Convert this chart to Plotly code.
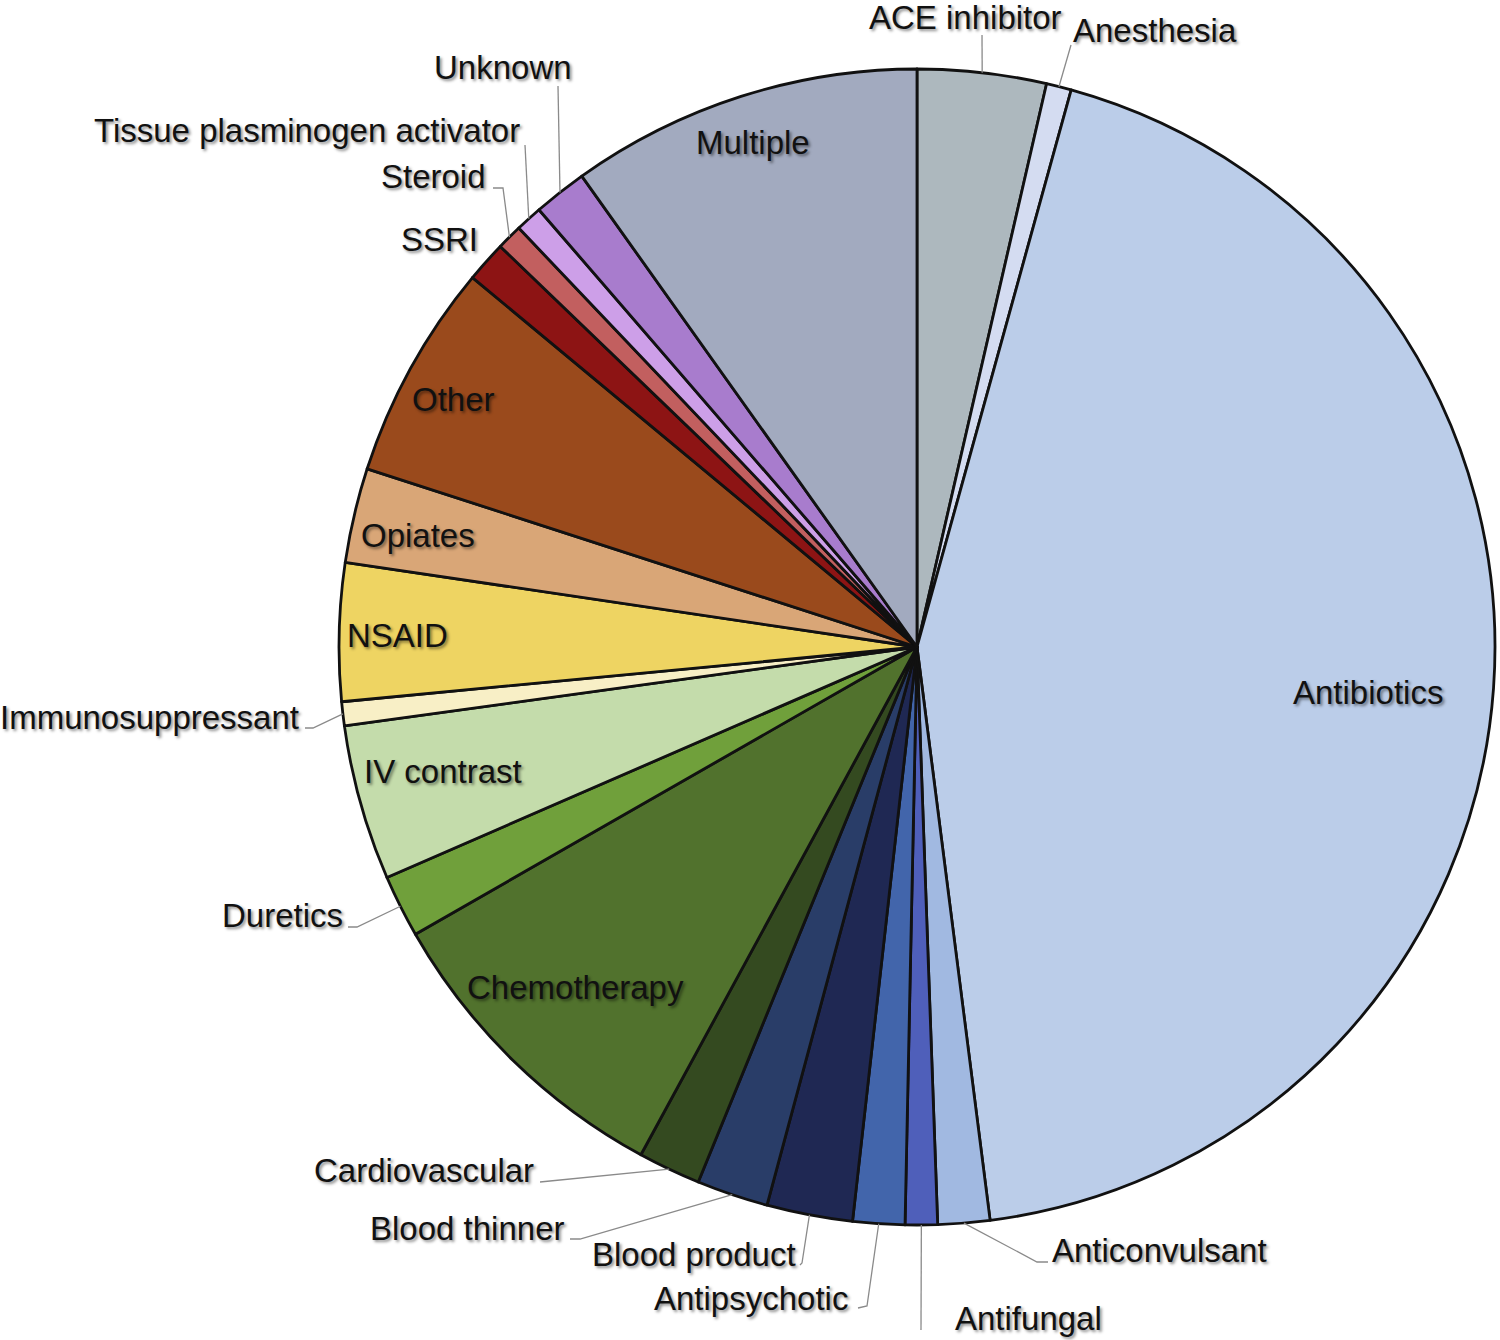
import math
import plotly.graph_objects as go

# ---------------- data ----------------
categories = ["ACE inhibitor", "Anesthesia", "Antibiotics", "Anticonvulsant", "Antifungal",
              "Antipsychotic", "Blood product", "Blood thinner", "Cardiovascular", "Chemotherapy",
              "Duretics", "IV contrast", "Immunosuppressant", "NSAID", "Opiates", "Other",
              "SSRI", "Steroid", "Tissue plasminogen activator", "Unknown", "Multiple"]
values = [3.6, 0.7, 43.7, 1.45, 0.9, 1.45, 2.4, 2.0, 1.75, 8.8,
          1.75, 4.35, 0.67, 3.85, 2.65, 6.05, 1.15, 0.72, 0.75, 1.5, 9.85]
colors = ["#adb8be", "#d4dcf1", "#bbcde9", "#a1b9e1", "#4f5fba", "#4265ab", "#1f2853",
          "#293d68", "#344a20", "#51722d", "#70a03b", "#c4dcab", "#f8efc6", "#eed462",
          "#d9a677", "#9a4a1c", "#8d1414", "#c25f5f", "#cd9fe8", "#a87ccd", "#a2aabf"]

# ---------------- layout geometry (screen pixels) ----------------
W, H = 1500, 1340
CX, CY, R = 917, 647, 578

def px(x, y):
    return x / W, 1 - y / H

# label placement: (text x, text y) for inside labels
inside_labels = {
    "Multiple": (753, 143), "Antibiotics": (1368, 692), "Other": (453, 400),
    "Opiates": (418, 535), "NSAID": (397, 635), "IV contrast": (443, 772),
    "Chemotherapy": (575, 988),
}
# outside labels: (text x, text y, xanchor, leader elbow points after the slice anchor)
outside_labels = {
    "ACE inhibitor": (965, 17, "center", [(982, 35)]),
    "Anesthesia": (1155, 31, "center", [(1071, 45)]),
    "Anticonvulsant": (1050, 1250, "left", [(1037, 1262), (1048, 1262)]),
    "Antifungal": (953, 1318, "left", [(921, 1330)]),
    "Antipsychotic": (850, 1298, "right", [(867, 1306), (858, 1308)]),
    "Blood product": (798, 1254, "right", [(802, 1263), (800, 1265)]),
    "Blood thinner": (566, 1228, "right", [(580, 1239), (570, 1239)]),
    "Cardiovascular": (536, 1170, "right", [(540, 1182)]),
    "Duretics": (345, 916, "right", [(357, 927), (348, 927)]),
    "Immunosuppressant": (301, 717, "right", [(313, 728), (305, 728)]),
    "SSRI": (480, 240, "right", []),
    "Steroid": (488, 177, "right", [(503, 188), (493, 188)]),
    "Tissue plasminogen activator": (522, 131, "right", [(525, 145)]),
    "Unknown": (503, 68, "center", [(558, 86)]),
}

FONT = "Liberation Sans, Arial, sans-serif"
FSIZE = 33
SHADOW = "2px 2px 3px rgba(0,0,0,0.45)"

x0, y1 = px(CX - R, CY - R)
x1, y0 = px(CX + R, CY + R)

fig = go.Figure(go.Pie(
    labels=categories, values=values, sort=False, direction="clockwise", rotation=0,
    marker=dict(colors=colors, line=dict(color="#111111", width=2.8)),
    textinfo="none", showlegend=False, domain=dict(x=[x0, x1], y=[y0, y1]),
))

total = sum(values)
cum = 0.0
mid_angle = {}
for c, v in zip(categories, values):
    mid_angle[c] = (cum + v / 2) / total * 2 * math.pi
    cum += v

annotations = []
shapes = []
for name, (tx, ty) in inside_labels.items():
    ax_, ay_ = px(tx, ty)
    annotations.append(dict(x=ax_, y=ay_, xref="paper", yref="paper", text=name, showarrow=False,
                            xanchor="center", yanchor="middle",
                            font=dict(family=FONT, size=FSIZE, color="#111111", shadow=SHADOW)))

for name, (tx, ty, xa, pts) in outside_labels.items():
    ax_, ay_ = px(tx, ty)
    annotations.append(dict(x=ax_, y=ay_, xref="paper", yref="paper", text=name, showarrow=False,
                            xanchor=xa, yanchor="middle",
                            font=dict(family=FONT, size=FSIZE, color="#111111", shadow=SHADOW)))
    if pts:
        a = mid_angle[name]
        sx, sy = CX + R * math.sin(a), CY - R * math.cos(a)
        path_pts = [(sx, sy)] + pts
        d = "M " + " L ".join(f"{px(x, y)[0]:.5f},{px(x, y)[1]:.5f}" for x, y in path_pts)
        shapes.append(dict(type="path", path=d, xref="paper", yref="paper",
                           line=dict(color="#8a8a8a", width=1.3)))

fig.update_layout(width=W, height=H, autosize=False, margin=dict(l=0, r=0, t=0, b=0),
                  paper_bgcolor="white", plot_bgcolor="white",
                  annotations=annotations, shapes=shapes)

fig.write_html("out.html", config={"displayModeBar": False},
               post_script="document.body.style.margin='0px';")
